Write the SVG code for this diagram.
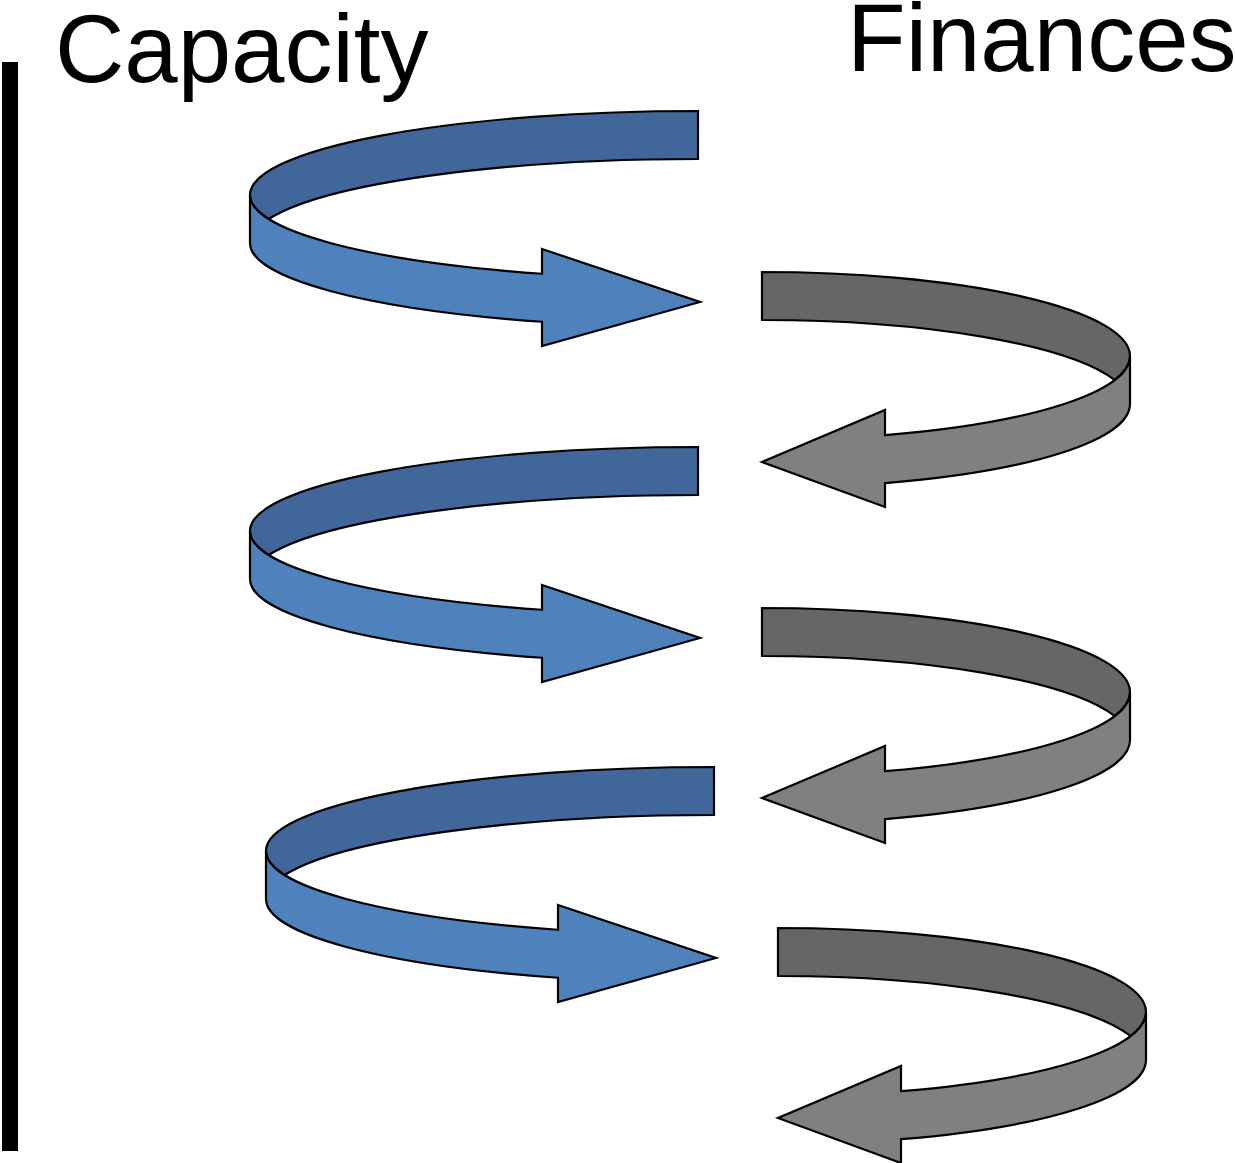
<svg xmlns="http://www.w3.org/2000/svg" width="1235" height="1163" viewBox="0 0 1235 1163">
<style>
.lbl{font-family:"Liberation Sans",Arial,sans-serif;font-size:96px;fill:#000}
path{stroke:#000;stroke-width:2.2;stroke-linejoin:miter}
.bd{fill:#41679A}
.bl{fill:#4F81BD}
.gd{fill:#666666}
.gl{fill:#808080}
</style>
<defs>
<g id="blueArrow">
<path class="bd" d="M 698,111 A 448 84 0 0 0 250,195 A 448 84 0 0 0 268.7,219 A 448 84 0 0 1 698,159 Z"/>
<path class="bl" d="M 250,195 A 448 84 0 0 0 542,273.75 L 542,249 L 700,302 L 542,346 L 542,321.75 A 448 84 0 0 1 250,243 Z"/>
</g>
<g id="grayArrow">
<path class="gd" d="M 762,272 A 368 84 0 0 1 1130,356 A 368 84 0 0 1 1114.6,380 A 368 84 0 0 0 762,320 Z"/>
<path class="gl" d="M 1130,356 A 368 84 0 0 1 885,435.2 L 885,410 L 762,462 L 885,507 L 885,483.2 A 368 84 0 0 0 1130,404 Z"/>
</g>
</defs>
<g id="axis"><rect x="2" y="62" width="16" height="1089" fill="#000"/></g>
<g id="label-capacity"><text class="lbl" x="55" y="82">Capacity</text></g>
<g id="label-finances"><text class="lbl" x="847" y="71">Finances</text></g>
<g id="connectors">
<use id="blue1" href="#blueArrow"/>
<use id="gray1" href="#grayArrow"/>
<use id="blue2" href="#blueArrow" transform="translate(0,336)"/>
<use id="gray2" href="#grayArrow" transform="translate(0,336)"/>
<use id="blue3" href="#blueArrow" transform="translate(16,656)"/>
<use id="gray3" href="#grayArrow" transform="translate(16,656)"/>
</g>
</svg>
